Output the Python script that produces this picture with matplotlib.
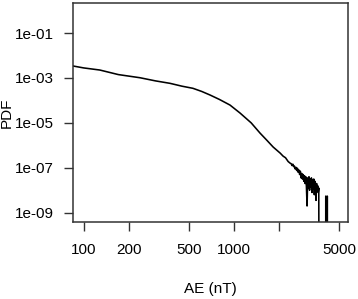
import matplotlib
matplotlib.use("Agg")
import matplotlib.pyplot as plt
from matplotlib.ticker import FixedLocator, NullLocator

plt.rcParams['font.family'] = ['Liberation Sans', 'DejaVu Sans']

# smooth body of the distribution
ae_main = [85, 100, 128, 170, 237, 300, 375, 450, 533, 610, 692, 800, 940,
           1096, 1300, 1489, 1650, 1820, 2027, 2120, 2200, 2290, 2362]
pdf_main = [3.4e-3, 2.79e-3, 2.25e-3, 1.41e-3, 1.02e-3, 7.4e-4, 5.75e-4, 4.3e-4,
            3.45e-4, 2.5e-4, 1.74e-4, 1.1e-4, 6.2e-5, 2.74e-5, 1.0e-5, 3.5e-6,
            1.7e-6, 8.4e-7, 4.5e-7, 3.3e-7, 2.8e-7, 1.9e-7, 1.6e-7]

# noisy tail (log10 of PDF)
ae_tail = [2400, 2430, 2460, 2490, 2520, 2550, 2580, 2610, 2640, 2670, 2700,
           2730, 2760, 2790, 2820, 2850, 2880, 2910, 2940, 2970, 3000, 3030,
           3060, 3090, 3120, 3150, 3180, 3210, 3240, 3270, 3300, 3330, 3360,
           3390, 3420, 3450, 3480, 3510, 3540, 3570, 3600, 3630, 3660]
logpdf_tail = [-6.82, -6.90, -6.84, -6.95, -6.92, -7.05, -6.98, -7.12, -7.02,
               -7.20, -7.10, -7.30, -7.15, -7.45, -7.25, -7.50, -7.30, -7.60,
               -7.35, -7.70, -7.40, -7.85, -8.70, -7.45, -7.90, -7.40, -8.00,
               -7.50, -7.85, -7.45, -8.10, -7.55, -7.95, -7.50, -8.20, -7.60,
               -7.90, -8.45, -7.70, -8.00, -7.80, -8.10, -7.90]

# isolated extreme bins (zero elsewhere)
ae_ext = [3680, 4068, 4075, 4082, 4162, 4170, 4178, 4300]
pdf_ext = [0, 0, 5.5e-9, 0, 0, 5.5e-9, 0, 0]

xticks = [100, 200, 500, 1000, 2000, 5000]
xticklabels = ['100', '200', '500', '1000', '', '5000']
yticks = [1e-1, 1e-3, 1e-5, 1e-7, 1e-9]
yticklabels = ['1e-01', '1e-03', '1e-05', '1e-07', '1e-09']

ae = ae_main + ae_tail + ae_ext
pdf = pdf_main + [10 ** v for v in logpdf_tail] + pdf_ext
pdf = [p if p > 0 else 1e-14 for p in pdf]

fig = plt.figure(figsize=(3.58, 2.99), dpi=100)
ax = fig.add_axes([73.3 / 358, 1 - 221.7 / 299, (348 - 73.3) / 358, (221.7 - 3) / 299])
ax.plot(ae, pdf, color='black', lw=1.15)
ax.set_xscale('log')
ax.set_yscale('log')
ax.set_xlim(85.3, 5727)
ax.set_ylim(10 ** -9.4, 10 ** 0.336)

ax.xaxis.set_major_locator(FixedLocator(xticks))
ax.set_xticklabels(xticklabels)
ax.xaxis.set_minor_locator(NullLocator())
ax.yaxis.set_major_locator(FixedLocator(yticks))
ax.set_yticklabels(yticklabels)
ax.yaxis.set_minor_locator(NullLocator())

ax.tick_params(axis='both', direction='out', length=6.5, width=1.0, color='#333333',
               labelsize=11, labelcolor='black')
ax.tick_params(axis='x', pad=9)
ax.tick_params(axis='y', pad=7.5)
for s in ax.spines.values():
    s.set_linewidth(1.1)
    s.set_color('#333333')

ax.set_xlabel('AE (nT)', fontsize=11, labelpad=18)
ax.set_ylabel('PDF', fontsize=11, labelpad=1)

fig.savefig('out.png', dpi=100)
